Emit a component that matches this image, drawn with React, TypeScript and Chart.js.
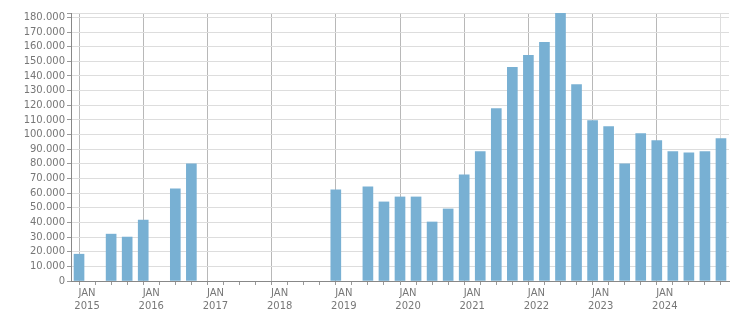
import React, { useEffect, useRef } from "react";
import { Chart, registerables } from "chart.js";

Chart.register(...registerables);

// Quarters from Q4 2014 to Q4 2024
const quarters: string[] = [
  "Q4 2014",
  "Q1 2015", "Q2 2015", "Q3 2015", "Q4 2015",
  "Q1 2016", "Q2 2016", "Q3 2016", "Q4 2016",
  "Q1 2017", "Q2 2017", "Q3 2017", "Q4 2017",
  "Q1 2018", "Q2 2018", "Q3 2018", "Q4 2018",
  "Q1 2019", "Q2 2019", "Q3 2019", "Q4 2019",
  "Q1 2020", "Q2 2020", "Q3 2020", "Q4 2020",
  "Q1 2021", "Q2 2021", "Q3 2021", "Q4 2021",
  "Q1 2022", "Q2 2022", "Q3 2022", "Q4 2022",
  "Q1 2023", "Q2 2023", "Q3 2023", "Q4 2023",
  "Q1 2024", "Q2 2024", "Q3 2024", "Q4 2024",
];

const values: (number | null)[] = [
  18300,
  null, 32000, 30000, 41600,
  null, 62900, 80000, null,
  null, null, null, null,
  null, null, null, 62200,
  null, 64300, 54000, 57400,
  57400, 40300, 49200, 72500,
  88300, 117800, 145900, 154100,
  163000, 182900, 134200, 109500,
  105400, 80000, 100600, 95800,
  88300, 87600, 88300, 97200,
];

const yearLabels: string[] = [
  "2015", "2016", "2017", "2018", "2019",
  "2020", "2021", "2022", "2023", "2024",
];

const yTickValues: number[] = [
  0, 10000, 20000, 30000, 40000, 50000, 60000, 70000, 80000, 90000,
  100000, 110000, 120000, 130000, 140000, 150000, 160000, 170000, 180000,
];
const yMax = 183000;

const fmt = (v: number) => {
  const s = String(Math.round(v));
  return s.replace(/\B(?=(\d{3})+(?!\d))/g, ".");
};

export default function App() {
  const ref = useRef<HTMLCanvasElement | null>(null);

  useEffect(() => {
    if (!ref.current) return;
    const points = values.map((v, i) => ({ x: i + 0.5, y: v }));
    const font = { family: "DejaVu Sans", size: 10 };
    const chart = new Chart(ref.current, {
      type: "bar",
      data: {
        labels: quarters,
        datasets: [
          {
            label: "Werte",
            data: points as any,
            backgroundColor: "#78b0d3",
            barThickness: 10,
            borderWidth: 0,
          },
        ],
      },
      options: {
        animation: false,
        responsive: true,
        maintainAspectRatio: false,
        layout: { padding: { top: 13, right: 22, bottom: 0, left: 0 } },
        plugins: { legend: { display: false }, tooltip: { enabled: false } },
        scales: {
          x: {
            type: "linear",
            min: 0,
            max: quarters.length,
            offset: false,
            afterBuildTicks: (s: any) => {
              s.ticks = quarters.map((_, i) => ({ value: i })).concat([{ value: quarters.length }]);
            },
            afterFit: (s: any) => {
              s.height = 32;
            },
            ticks: {
              autoSkip: false,
              maxRotation: 0,
              minRotation: 0,
              padding: 2,
              color: "#777",
              font: { ...font, lineHeight: 1.27 },
              callback: (v: any) => {
                const n = Number(v);
                if ((n - 1) % 4 === 0 && n >= 1) {
                  const idx = (n - 1) / 4;
                  if (idx < yearLabels.length) return ["JAN", yearLabels[idx]];
                }
                return "";
              },
            },
            grid: {
              drawOnChartArea: true,
              tickLength: 4,
              color: (ctx: any) => {
                const n = ctx.tick ? ctx.tick.value : 0;
                if (n === quarters.length) return "#dddddd";
                if ((n - 1) % 4 === 0 && n >= 1) return "#b8b8b8";
                return "rgba(0,0,0,0)";
              },
              tickColor: "#999",
            },
            border: { color: "#888", width: 1 },
          },
          y: {
            min: 0,
            max: yMax,
            afterBuildTicks: (s: any) => {
              s.ticks = yTickValues.map((v) => ({ value: v })).concat([{ value: yMax }]);
            },
            afterFit: (s: any) => {
              s.width = 71;
            },
            ticks: {
              autoSkip: false,
              padding: 2,
              color: "#777",
              font,
              callback: (v: any) => {
                const n = Number(v);
                if (n === yMax) return "";
                return fmt(n);
              },
            },
            grid: {
              color: "#dddddd",
              tickLength: 4,
              tickColor: "#999",
            },
            border: { color: "#888", width: 1 },
          },
        },
      },
    });
    return () => chart.destroy();
  }, []);

  return (
    <div style={{ position: "fixed", left: 0, top: 0, width: 751, height: 313, background: "#fff" }}>
      <canvas ref={ref} />
    </div>
  );
}
